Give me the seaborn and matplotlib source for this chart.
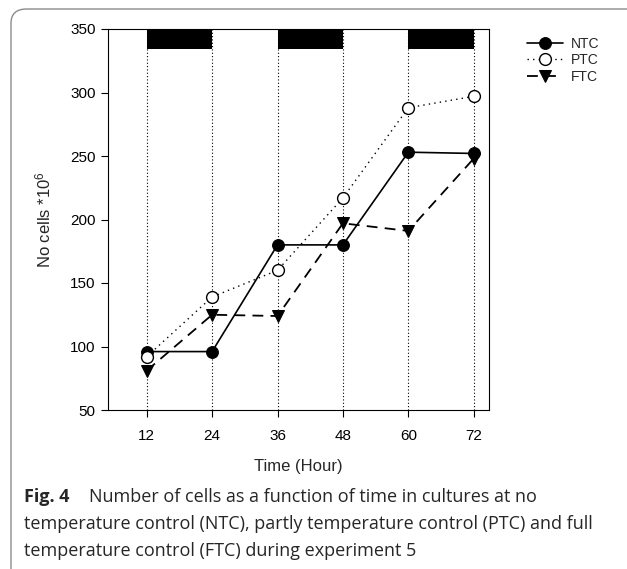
import matplotlib
matplotlib.use('Agg')
import matplotlib.pyplot as plt
from matplotlib.patches import FancyBboxPatch
import seaborn as sns
import pandas as pd

# values
hours = [12, 24, 36, 48, 60, 72]
ntc = [96, 96, 180, 180, 253, 252]
ptc = [92, 139, 160, 217, 288, 297]
ftc = [81, 125, 124, 197, 191, 248]
dark_periods = [(12, 24), (36, 48), (60, 72)]

sns.set_style('white')
plt.rcParams['font.family'] = ['Liberation Sans', 'DejaVu Sans']
plt.rcParams['mathtext.default'] = 'regular'

fig = plt.figure(figsize=(6.27, 5.69), dpi=100)
ax = fig.add_axes([108 / 627, 1 - 410 / 569, (489 - 108) / 627, (410 - 29) / 569])

df = pd.DataFrame({'hour': hours, 'NTC': ntc, 'PTC': ptc, 'FTC': ftc})

# dark periods on top and dotted guide lines
for a, b in dark_periods:
    ax.axvspan(a, b, ymin=(334 - 50) / 300, ymax=1, color='black', lw=0, zorder=1)
for h in hours:
    ax.axvline(h, color='black', lw=0.8, ls=(0, (1, 2)), zorder=0)

sns.lineplot(data=df, x='hour', y='NTC', ax=ax, color='black', lw=1.2,
             marker='o', markersize=8.5, markerfacecolor='black',
             markeredgecolor='black', label='NTC', zorder=3)
sns.lineplot(data=df, x='hour', y='PTC', ax=ax, color='black', lw=1.0,
             linestyle=(0, (1, 3)), marker='o', markersize=8.5,
             markerfacecolor='white', markeredgecolor='black',
             markeredgewidth=1.0, label='PTC', zorder=4)
sns.lineplot(data=df, x='hour', y='FTC', ax=ax, color='black', lw=1.3,
             linestyle=(0, (6, 4)), marker='v', markersize=8.5,
             markerfacecolor='black', markeredgecolor='black',
             label='FTC', zorder=3)

ax.set_xlim(4.9, 74.8)
ax.set_ylim(50, 350)
ax.set_xticks(hours)
ax.set_yticks([50, 100, 150, 200, 250, 300, 350])
ax.tick_params(axis='both', direction='out', length=5, width=0.8,
               labelsize=11, colors='black', bottom=True, left=True)
ax.tick_params(axis='x', pad=9)
ax.tick_params(axis='y', pad=4)
for s in ax.spines.values():
    s.set_color('black')
    s.set_linewidth(0.8)

ax.set_xlabel('Time (Hour)', fontsize=12, labelpad=11)
ax.set_ylabel('No cells *10$^{6}$', fontsize=12, labelpad=12)

leg = ax.legend(loc='upper left', bbox_to_anchor=(514 / 627, 1 - 24 / 569),
                bbox_transform=fig.transFigure, frameon=False, fontsize=10,
                handlelength=2.6, labelspacing=0.2, handletextpad=0.6)

# caption
cap_font = ['Open Sans', 'DejaVu Sans']
fig.text(24 / 627, 1 - 497 / 569, 'Fig. 4', fontsize=13, fontweight='bold',
         family=cap_font, va='center')
fig.text(89 / 627, 1 - 497 / 569,
         'Number of cells as a function of time in cultures at no',
         fontsize=13, family=cap_font, va='center')
fig.text(24 / 627, 1 - 524 / 569,
         'temperature control (NTC), partly temperature control (PTC) and full',
         fontsize=13, family=cap_font, va='center')
fig.text(24 / 627, 1 - 551 / 569,
         'temperature control (FTC) during experiment 5',
         fontsize=13, family=cap_font, va='center')

# rounded frame around the figure
frame = FancyBboxPatch((11 / 627, -0.1), 1.2, 1.1 - 9 / 569,
                       boxstyle='round,pad=0,rounding_size=0.025',
                       transform=fig.transFigure, fill=False,
                       ec='#8c8c8c', lw=1.0)
fig.patches.append(frame)

fig.savefig('out.png', dpi=100)
